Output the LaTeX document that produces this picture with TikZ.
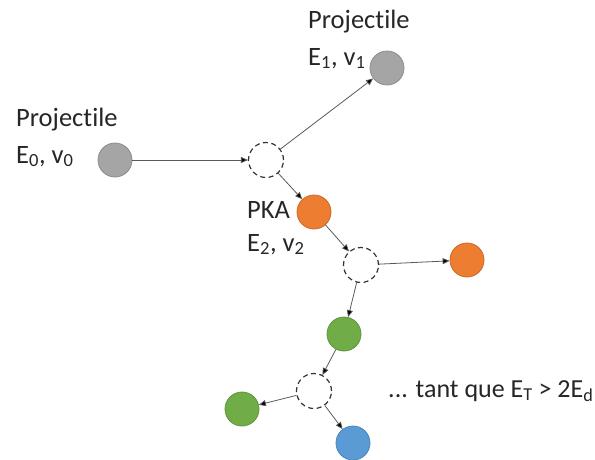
\documentclass[tikz,border=0pt]{standalone}
\usepackage{fontspec}
\setmainfont[Ligatures={NoCommon}]{Carlito}
\usetikzlibrary{arrows.meta}
\definecolor{gball}{HTML}{A5A5A5}
\definecolor{gedge}{HTML}{8C8C8C}
\definecolor{oball}{HTML}{ED7D31}
\definecolor{oedge}{HTML}{C9682A}
\definecolor{grball}{HTML}{70AD47}
\definecolor{gredge}{HTML}{5E933C}
\definecolor{bball}{HTML}{5B9BD5}
\definecolor{bedge}{HTML}{4D84B5}
\tikzset{
  ball/.style={circle, minimum size=34pt, inner sep=0pt, line width=0.8pt},
  grayball/.style={ball, fill=gball, draw=gedge},
  orangeball/.style={ball, fill=oball, draw=oedge},
  greenball/.style={ball, fill=grball, draw=gredge},
  blueball/.style={ball, fill=bball, draw=bedge},
  collision/.style={circle, minimum size=35pt, inner sep=0pt, draw=black!80, line width=1.2pt, dash pattern=on 5pt off 3.5pt},
  link/.style={draw=black!65, line width=0.8pt, -{Triangle[length=7pt,width=6pt,fill=black]}},
  lbl/.style={anchor=base west, inner sep=0pt, font=\fontsize{26.5pt}{30pt}\selectfont, text=black!85},
  lblsmall/.style={lbl, font=\fontsize{26pt}{30pt}\selectfont}
}
\begin{document}
\begin{tikzpicture}[x=1pt,y=-1pt]
\useasboundingbox (0,0) rectangle (595,459);
\node[grayball] (p0) at (115,160) {};
\node[collision] (d1) at (266,160) {};
\node[grayball] (p1) at (387,68) {};
\node[orangeball] (pka) at (314,212) {};
\node[collision] (d2) at (361,265) {};
\node[orangeball] (o2) at (467,260) {};
\node[greenball] (g1) at (344,334) {};
\node[collision] (d3) at (314,391) {};
\node[greenball] (g2) at (242,409) {};
\node[blueball] (b) at (353,443) {};

\draw[link] (p0) -- (d1);
\draw[link] (d1) -- (p1);
\draw[link] (d1) -- (pka);
\draw[link] (pka) -- (d2);
\draw[link] (d2) -- (o2);
\draw[link] (d2) -- (g1);
\draw[link] (g1) -- (d3);
\draw[link] (d3) -- (g2);
\draw[link] (d3) -- (b);

\node[lbl] (t0a) at (16,126) {Projectile};
\node[lbl] (t0b) at (16,163) {E\textsubscript{0}, v\textsubscript{0}};
\node[lbl] (t1a) at (308,28) {Projectile};
\node[lbl] (t1b) at (308,65) {E\textsubscript{1}, v\textsubscript{1}};
\node[lbl] (t2a) at (247,218) {PKA};
\node[lbl] (t2b) at (247,251) {E\textsubscript{2}, v\textsubscript{2}};
\node[lblsmall] (t3) at (388,397) {... tant que E\textsubscript{T} > 2E\textsubscript{d}};
\end{tikzpicture}
\end{document}
